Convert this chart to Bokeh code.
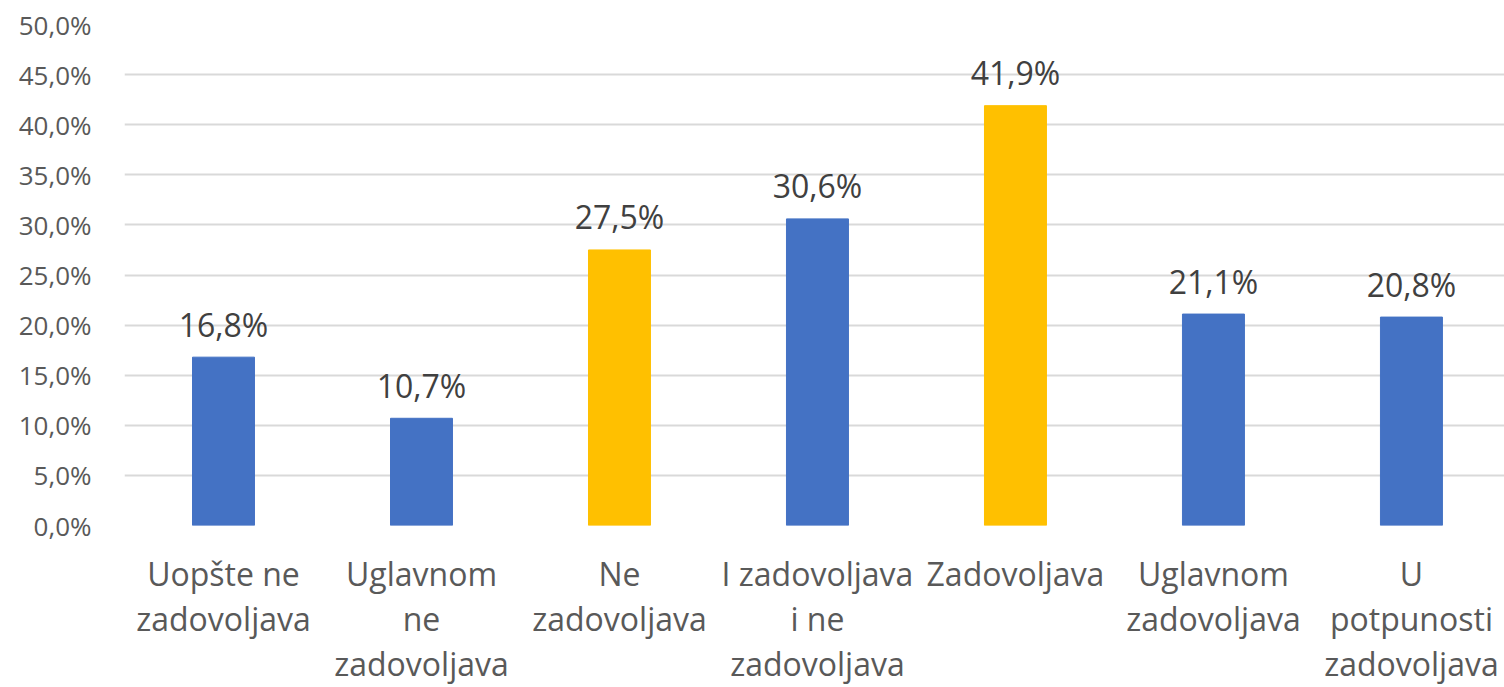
from bokeh.plotting import figure
from bokeh.models import Range1d, FixedTicker, ColumnDataSource
from bokeh.core.properties import value
from bokeh.embed import file_html
from bokeh.resources import INLINE

categories = ["Uopšte ne\nzadovoljava", "Uglavnom\nne\nzadovoljava", "Ne\nzadovoljava",
              "I zadovoljava\ni ne\nzadovoljava", "Zadovoljava", "Uglavnom\nzadovoljava",
              "U\npotpunosti\nzadovoljava"]
values = [16.8, 10.7, 27.5, 30.6, 41.9, 21.1, 20.8]
colors = ["#4472C4", "#4472C4", "#FFC000", "#4472C4", "#FFC000", "#4472C4", "#4472C4"]
y_ticks = [0, 5, 10, 15, 20, 25, 30, 35, 40, 45, 50]

FONT = "Open Sans"
xs = list(range(len(categories)))
labels = [f"{v:.1f}%".replace(".", ",") for v in values]
src = ColumnDataSource(dict(x=xs, top=values, color=colors, label=labels))

p = figure(width=1504, height=687, output_backend="svg", toolbar_location=None,
           x_range=Range1d(-0.5, 6.47), y_range=Range1d(0, 50),
           min_border_left=124, min_border_right=0, min_border_top=24, min_border_bottom=158)
p.outline_line_color = None
p.background_fill_color = "white"

p.vbar(x="x", top="top", width=0.313, color="color", source=src)
p.text(x="x", y="top", text="label", source=src, text_align="center", text_baseline="alphabetic",
       y_offset=-33, text_font=value(FONT), text_font_size="32px", text_color="#404040")

p.xaxis.ticker = FixedTicker(ticks=xs)
p.xaxis.major_label_overrides = {i: c for i, c in enumerate(categories)}
p.xaxis.major_label_text_font = FONT
p.xaxis.major_label_text_font_size = "32px"
p.xaxis.major_label_text_line_height = 1.05
p.xaxis.major_label_text_color = "#595959"
p.xaxis.major_label_standoff = 20
p.xaxis.axis_line_color = None
p.xaxis.major_tick_line_color = None
p.xaxis.minor_tick_line_color = None
p.xgrid.grid_line_color = None

p.yaxis.ticker = FixedTicker(ticks=y_ticks)
p.yaxis.major_label_overrides = {t: f"{t:.1f}%".replace(".", ",") for t in y_ticks}
p.yaxis.major_label_text_font = FONT
p.yaxis.major_label_text_font_size = "26px"
p.yaxis.major_label_text_color = "#595959"
p.yaxis.major_label_standoff = 27
p.yaxis.axis_line_color = None
p.yaxis.major_tick_line_color = None
p.yaxis.minor_tick_line_color = None
p.ygrid.grid_line_color = "#D9D9D9"
p.ygrid.grid_line_width = 2

open("out.html", "w").write(file_html(p, INLINE))
